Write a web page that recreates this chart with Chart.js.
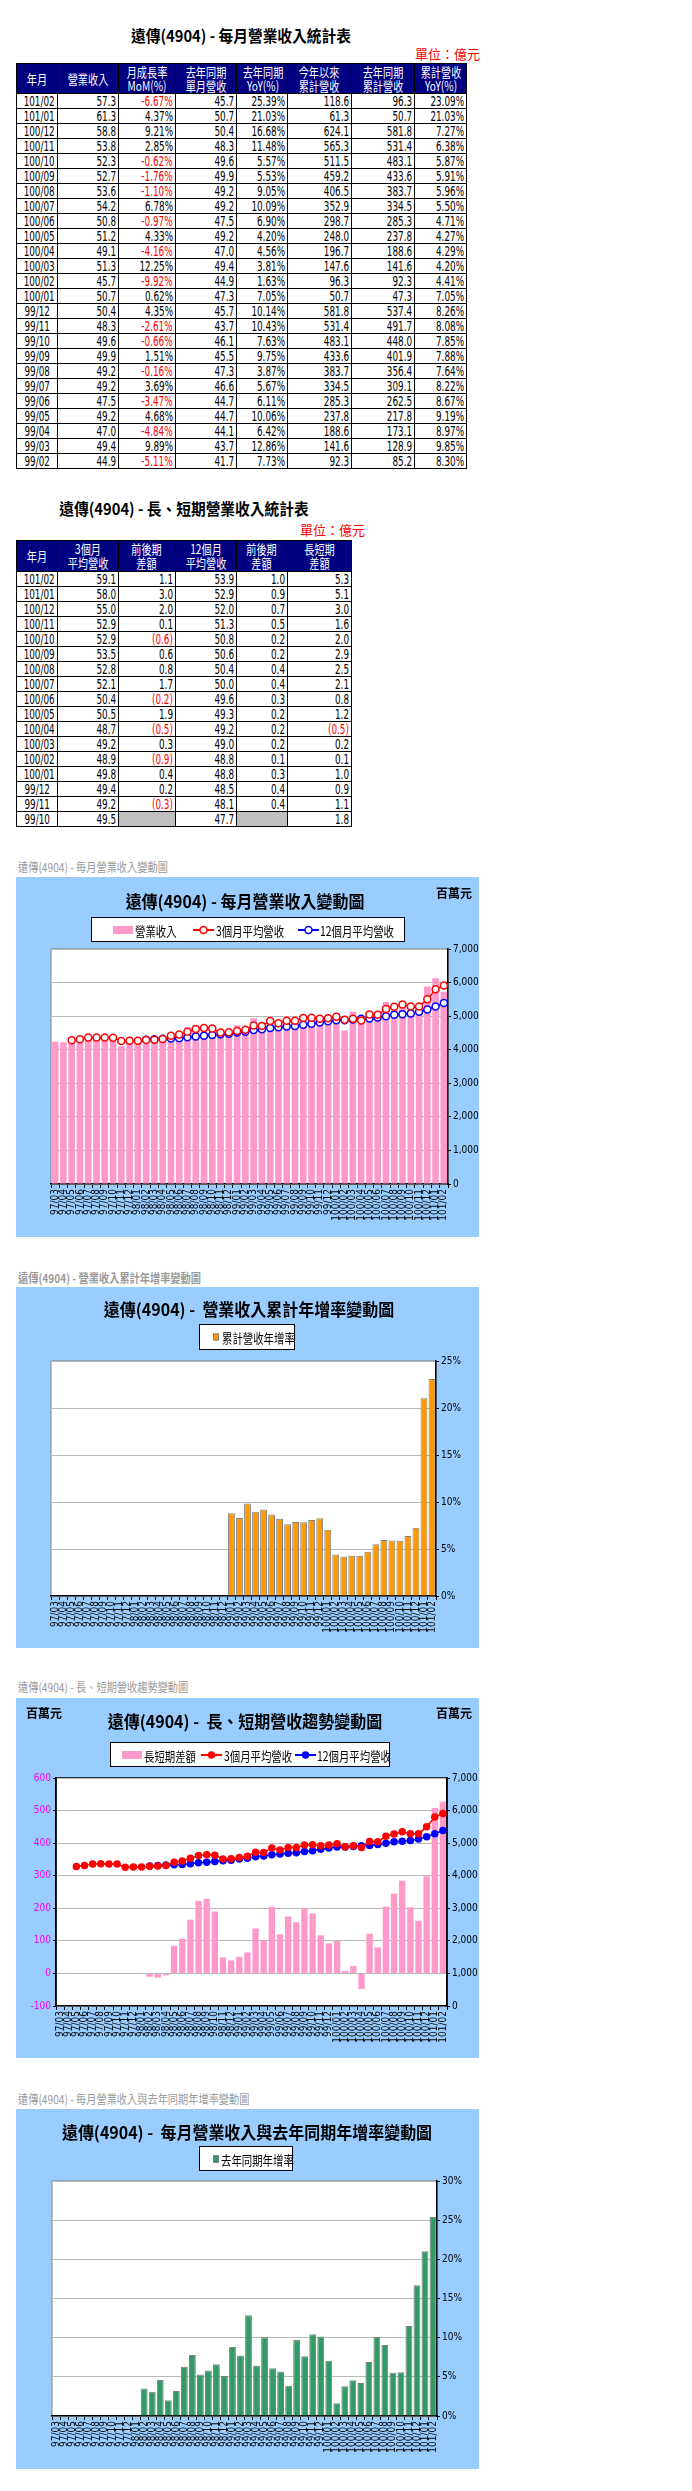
<!DOCTYPE html>
<html>
<head>
<meta charset="utf-8">
<script src="https://cdn.jsdelivr.net/npm/chart.js@4"></script>
<style>
body { margin: 0; background: #fff; font-family: "Noto Sans CJK TC", sans-serif; }
#page { position: relative; width: 692px; height: 2491px; overflow: hidden; }
.ttl { position: absolute; font-weight: bold; font-size: 16px; line-height: 20px; white-space: nowrap; transform: translateX(-50%) scaleX(0.92); color: #000; }
.unit { position: absolute; color: #f00; font-size: 13px; line-height: 16px; white-space: nowrap; }
.cap { position: absolute; left: 18px; color: #9a9a9a; font-size: 12px; line-height: 16px; white-space: nowrap; transform: scaleX(0.85); transform-origin: 0 50%; }
.panel { position: absolute; left: 16px; width: 463px; background: #99ccff; }
.panel canvas { position: absolute; left: 0; top: 0; }
table { position: absolute; left: 16px; border-collapse: collapse; table-layout: fixed; }
th { background: #000080; color: #fff; font-weight: normal; font-size: 13px; line-height: 14px; border: 1px solid #000; padding: 0; text-align: center; white-space: nowrap; overflow: hidden; }
th span { display: inline-block; transform: scaleX(0.78); }
td { border: 1px solid #000; height: 14px; line-height: 14px; padding: 0 2px 0 0; font-family: "DejaVu Sans Condensed", sans-serif; font-size: 14px; text-align: right; color: #000; white-space: nowrap; overflow: hidden; }
td span { display: inline-block; transform: scaleX(0.7); transform-origin: 100% 50%; }
td.m { text-align: center; padding: 0; }
td.m span { transform-origin: 50% 50%; }
td.neg { color: #f00; }
td.blank { background: #c0c0c0; }
</style>
</head>
<body>
<div id="page">
  <div class="ttl" style="left:241px;top:25px">遠傳(4904) - 每月營業收入統計表</div>
  <div class="unit" style="left:415px;top:46px">單位：億元</div>
  <table id="t1" style="top:63px;width:450px"></table>

  <div class="ttl" style="left:184px;top:498px">遠傳(4904) - 長、短期營業收入統計表</div>
  <div class="unit" style="left:300px;top:522px">單位：億元</div>
  <table id="t2" style="top:540px;width:335px"></table>

  <div class="cap" style="top:859px">遠傳(4904) - 每月營業收入變動圖</div>
  <div class="panel" style="top:877px;height:360px"><canvas id="c1" width="463" height="360"></canvas></div>

  <div class="cap" style="top:1270px;font-weight:bold">遠傳(4904) -  營業收入累計年增率變動圖</div>
  <div class="panel" style="top:1287px;height:361px"><canvas id="c2" width="463" height="361"></canvas></div>

  <div class="cap" style="top:1679px">遠傳(4904) -  長、短期營收趨勢變動圖</div>
  <div class="panel" style="top:1698px;height:360px"><canvas id="c3" width="463" height="360"></canvas></div>

  <div class="cap" style="top:2091px">遠傳(4904) -  每月營業收入與去年同期年增率變動圖</div>
  <div class="panel" style="top:2109px;height:360px"><canvas id="c4" width="463" height="360"></canvas></div>
</div>

<script>
// ---- table 1: monthly revenue (億元) ----
const months1 = ["101/02","101/01","100/12","100/11","100/10","100/09","100/08","100/07","100/06","100/05","100/04","100/03","100/02","100/01","99/12","99/11","99/10","99/09","99/08","99/07","99/06","99/05","99/04","99/03","99/02"];
const rev1 = [57.3,61.3,58.8,53.8,52.3,52.7,53.6,54.2,50.8,51.2,49.1,51.3,45.7,50.7,50.4,48.3,49.6,49.9,49.2,49.2,47.5,49.2,47.0,49.4,44.9];
const mom1 = [-6.67,4.37,9.21,2.85,-0.62,-1.76,-1.10,6.78,-0.97,4.33,-4.16,12.25,-9.92,0.62,4.35,-2.61,-0.66,1.51,-0.16,3.69,-3.47,4.68,-4.84,9.89,-5.11];
const lastRev1 = [45.7,50.7,50.4,48.3,49.6,49.9,49.2,49.2,47.5,49.2,47.0,49.4,44.9,47.3,45.7,43.7,46.1,45.5,47.3,46.6,44.7,44.7,44.1,43.7,41.7];
const yoy1 = [25.39,21.03,16.68,11.48,5.57,5.53,9.05,10.09,6.90,4.20,4.56,3.81,1.63,7.05,10.14,10.43,7.63,9.75,3.87,5.67,6.11,10.06,6.42,12.86,7.73];
const ytd1 = [118.6,61.3,624.1,565.3,511.5,459.2,406.5,352.9,298.7,248.0,196.7,147.6,96.3,50.7,581.8,531.4,483.1,433.6,383.7,334.5,285.3,237.8,188.6,141.6,92.3];
const lastYtd1 = [96.3,50.7,581.8,531.4,483.1,433.6,383.7,334.5,285.3,237.8,188.6,141.6,92.3,47.3,537.4,491.7,448.0,401.9,356.4,309.1,262.5,217.8,173.1,128.9,85.2];
const ytdYoy1 = [23.09,21.03,7.27,6.38,5.87,5.91,5.96,5.50,4.71,4.27,4.29,4.20,4.41,7.05,8.26,8.08,7.85,7.88,7.64,8.22,8.67,9.19,8.97,9.85,8.30];

// ---- table 2: long / short term averages (億元) ----
const months2 = ["101/02","101/01","100/12","100/11","100/10","100/09","100/08","100/07","100/06","100/05","100/04","100/03","100/02","100/01","99/12","99/11","99/10"];
const avg3 = [59.1,58.0,55.0,52.9,52.9,53.5,52.8,52.1,50.4,50.5,48.7,49.2,48.9,49.8,49.4,49.2,49.5];
const diff3 = [1.1,3.0,2.0,0.1,-0.6,0.6,0.8,1.7,-0.2,1.9,-0.5,0.3,-0.9,0.4,0.2,-0.3,null];
const avg12 = [53.9,52.9,52.0,51.3,50.8,50.6,50.4,50.0,49.6,49.3,49.2,49.0,48.8,48.8,48.5,48.1,47.7];
const diff12 = [1.0,0.9,0.7,0.5,0.2,0.2,0.4,0.4,0.3,0.2,0.2,0.2,0.1,0.3,0.4,0.4,null];
const spread2 = [5.3,5.1,3.0,1.6,2.0,2.9,2.5,2.1,0.8,1.2,-0.5,0.2,0.1,1.0,0.9,1.1,1.8];

// ---- charts: 97/03 .. 101/02 (百萬元 / %) ----
const chartMonths = ["97/03","97/04","97/05","97/06","97/07","97/08","97/09","97/10","97/11","97/12",
  "98/01","98/02","98/03","98/04","98/05","98/06","98/07","98/08","98/09","98/10","98/11","98/12",
  "99/01","99/02","99/03","99/04","99/05","99/06","99/07","99/08","99/09","99/10","99/11","99/12",
  "100/01","100/02","100/03","100/04","100/05","100/06","100/07","100/08","100/09","100/10","100/11","100/12",
  "101/01","101/02"];
const revenue = [4240,4220,4380,4330,4380,4390,4320,4360,4100,4350,
  4350,4170,4370,4410,4470,4470,4660,4730,4550,4610,4370,4570,
  4730,4490,4940,4700,4920,4750,4920,4920,4990,4960,4830,5040,
  5070,4570,5130,4910,5120,5080,5420,5360,5270,5230,5380,5880,
  6130,5730];
const avg3m = [null,null,4280,4310,4363,4367,4363,4357,4260,4270,
  4267,4290,4297,4317,4417,4450,4533,4620,4647,4630,4510,4517,
  4557,4597,4720,4710,4853,4790,4863,4863,4943,4950,4920,4940,
  4980,4890,4920,4870,5050,5040,5210,5280,5350,5290,5290,5500,
  5800,5910];
const avg12m = [null,null,null,null,null,null,null,null,null,null,
  null,4300,4310,4326,4334,4345,4369,4397,4416,4437,4459,4478,
  4510,4536,4584,4608,4645,4669,4690,4706,4743,4770,4810,4850,
  4880,4880,4900,4920,4930,4960,5000,5040,5060,5080,5130,5200,
  5290,5390];
const spread = [null,null,null,null,null,null,null,null,null,null,
  null,-10,-13,-6,85,107,165,223,229,190,49,40,
  51,64,138,101,205,120,175,157,200,184,117,92,
  100,8,23,-48,122,80,205,245,285,203,162,298,
  508,527];
const cumYoy = [null,null,null,null,null,null,null,null,null,null,
  null,null,null,null,null,null,null,null,null,null,null,null,
  8.8,8.30,9.85,8.97,9.19,8.67,8.22,7.64,7.88,7.85,8.08,8.26,
  7.05,4.41,4.20,4.29,4.27,4.71,5.50,5.96,5.91,5.87,6.38,7.27,
  21.03,23.09];
const monthYoy = [null,null,null,null,null,null,null,null,null,null,
  null,3.5,3.1,4.6,2.0,3.2,6.3,7.8,5.3,5.8,6.6,5.1,
  8.8,7.73,12.86,6.42,10.06,6.11,5.67,3.87,9.75,7.63,10.43,10.14,
  7.05,1.63,3.81,4.56,4.20,6.90,10.09,9.05,5.53,5.57,11.48,16.68,
  21.03,25.39];

function cell(text, cls) {
    var td = document.createElement("td");
    var span = document.createElement("span");
    span.textContent = text;
    td.append(span);
    if (cls) td.className = cls;
    return td;
}

function buildTable(id, widths, headers, rows) {
    var table = document.getElementById(id);
    var cg = document.createElement("colgroup");
    for (var w of widths) {
        var col = document.createElement("col");
        col.style.width = w + "px";
        cg.append(col);
    }
    table.append(cg);
    var tr = document.createElement("tr");
    for (var h of headers) {
        var th = document.createElement("th");
        th.innerHTML = "<span>" + h + "</span>";
        th.style.height = (id == "t1" ? 29 : 30) + "px";
        tr.append(th);
    }
    table.append(tr);
    for (var r of rows) {
        var row = document.createElement("tr");
        for (var c of r) row.append(c);
        table.append(row);
    }
}

function pct(v) {
    return cell(v.toFixed(2) + "%", v < 0 ? "neg" : "");
}

function paren(v) {
    if (v === null) return cell("", "blank");
    if (v < 0) return cell("(" + (-v).toFixed(1) + ")", "neg");
    return cell(v.toFixed(1));
}

var rows1 = months1.map(function (m, i) {
    return [cell(m, "m"), cell(rev1[i].toFixed(1)), pct(mom1[i]), cell(lastRev1[i].toFixed(1)),
        pct(yoy1[i]), cell(ytd1[i].toFixed(1)), cell(lastYtd1[i].toFixed(1)), pct(ytdYoy1[i])];
});
buildTable("t1", [41, 61, 57, 61, 51, 64, 63, 52],
    ["年月", "營業收入", "月成長率<br>MoM(%)", "去年同期<br>單月營收", "去年同期<br>YoY(%)", "今年以來<br>累計營收", "去年同期<br>累計營收", "累計營收<br>YoY(%)"],
    rows1);

var rows2 = months2.map(function (m, i) {
    return [cell(m, "m"), cell(avg3[i].toFixed(1)), paren(diff3[i]), cell(avg12[i].toFixed(1)),
        paren(diff12[i]), paren(spread2[i])];
});
buildTable("t2", [41, 61, 57, 61, 51, 64],
    ["年月", "3個月<br>平均營收", "前後期<br>差額", "12個月<br>平均營收", "前後期<br>差額", "長短期<br>差額"],
    rows2);

// ---- chart helpers ----
Chart.defaults.font.family = "'DejaVu Sans', sans-serif";
Chart.defaults.color = "#000";

// per chart: title, unit labels and the boxed legend, keyed by canvas id
const decoConf = {};

const deco = {
    id: "deco",
    beforeDraw(chart) {
        var o = decoConf[chart.canvas.id];
        var ctx = chart.ctx, a = chart.chartArea;
        ctx.save();
        ctx.fillStyle = "#fff";
        ctx.fillRect(a.left, a.top, a.right - a.left, a.bottom - a.top);
        ctx.strokeStyle = o.frame || "#808080";
        ctx.lineWidth = o.frameWidth || 1;
        ctx.strokeRect(a.left, a.top, a.right - a.left, a.bottom - a.top);
        ctx.restore();
    },
    afterDraw(chart) {
        var o = decoConf[chart.canvas.id];
        var ctx = chart.ctx;
        ctx.save();
        ctx.fillStyle = "#000";
        ctx.textBaseline = "middle";
        ctx.textAlign = "center";
        ctx.save();
        ctx.translate(o.titleX, o.titleY);
        ctx.scale(0.94, 1);
        ctx.font = "bold 17px 'Noto Sans CJK TC'";
        ctx.fillText(o.title, 0, 0);
        ctx.restore();
        ctx.font = "bold 12px 'Noto Sans CJK TC'";
        for (var u of (o.units || [])) ctx.fillText("百萬元", u[0], u[1]);
        var b = o.box;
        ctx.fillStyle = "#fff";
        ctx.fillRect(b[0], b[1], b[2], b[3]);
        ctx.strokeStyle = "#000";
        ctx.lineWidth = 1;
        ctx.strokeRect(b[0] + 0.5, b[1] + 0.5, b[2] - 1, b[3] - 1);
        ctx.textAlign = "left";
        for (var it of o.items) {
            var ds = chart.data.datasets[it.ds];
            if (it.type == "rect") {
                ctx.fillStyle = ds.backgroundColor;
                ctx.fillRect(it.x, it.y - it.h / 2, it.w, it.h);
                if (ds.borderWidth) {
                    ctx.strokeStyle = ds.borderColor;
                    ctx.lineWidth = 1;
                    ctx.strokeRect(it.x + 0.5, it.y - it.h / 2 + 0.5, it.w - 1, it.h - 1);
                }
            } else {
                ctx.strokeStyle = ds.borderColor;
                ctx.lineWidth = 2;
                ctx.beginPath();
                ctx.moveTo(it.x, it.y);
                ctx.lineTo(it.x + it.w, it.y);
                ctx.stroke();
                ctx.beginPath();
                ctx.arc(it.x + it.w / 2, it.y, ds.pointRadius, 0, Math.PI * 2);
                ctx.fillStyle = ds.pointBackgroundColor;
                ctx.fill();
                ctx.lineWidth = ds.pointBorderWidth;
                ctx.stroke();
            }
            ctx.save();
            ctx.translate(it.tx, it.y + 1);
            ctx.scale(0.8, 1);
            ctx.fillStyle = "#000";
            ctx.font = "13px 'Noto Sans CJK TC'";
            ctx.fillText(ds.label, 0, 0);
            ctx.restore();
        }
        ctx.restore();
    }
};
Chart.register(deco);

function xScale(h) {
    return {
        grid: { drawOnChartArea: false, tickLength: 4, tickColor: "#000", offset: true },
        border: { color: "#000", width: 1.5 },
        ticks: { autoSkip: false, maxRotation: 90, minRotation: 90, font: { size: 10, family: "'DejaVu Sans Condensed', sans-serif" }, padding: 1 },
        afterFit(s) { s.height = h; }
    };
}

function yScale(pos, min, max, step, w, fmt, color, grid) {
    var ticks = { stepSize: step, font: { size: 10, family: "'DejaVu Sans Condensed', sans-serif" }, color: color, padding: 2 };
    if (fmt) ticks.callback = fmt;
    return {
        position: pos, min: min, max: max,
        ticks: ticks,
        grid: { color: "#b8b8b8", tickColor: "#000", tickLength: 3, drawOnChartArea: grid },
        border: { color: "#000", width: 1.5 },
        afterFit(s) { s.width = w; }
    };
}

function baseOpts(pad, scales) {
    return {
        responsive: false, animation: false, events: [],
        layout: { padding: pad },
        plugins: { legend: { display: false }, tooltip: { enabled: false } },
        scales: scales
    };
}

function lineSet(label, data, color, hollow, axis) {
    return {
        type: "line", label: label, data: data, yAxisID: axis, order: 1,
        borderColor: color, borderWidth: 1.5,
        pointRadius: hollow ? 3.5 : 3, pointBorderWidth: 1.5,
        pointBackgroundColor: hollow ? "#fff" : color, pointBorderColor: color
    };
}

var comma = function (v) { return v.toLocaleString("en-US"); };
var percent = function (v) { return v + "%"; };

// chart 1: monthly revenue with moving averages
decoConf.c1 = {
    title: "遠傳(4904) - 每月營業收入變動圖", titleX: 229, titleY: 25, units: [[438, 16]],
    box: [75, 40, 314, 25],
    items: [
        { ds: 0, type: "rect", x: 97, y: 53, w: 20, h: 8, tx: 119 },
        { ds: 1, type: "line", x: 177, y: 53, w: 21, tx: 200 },
        { ds: 2, type: "line", x: 282, y: 53, w: 21, tx: 304 }
    ]
};
new Chart(document.getElementById("c1"), {
    type: "bar",
    data: {
        labels: chartMonths,
        datasets: [
            { label: "營業收入", data: revenue, yAxisID: "y", order: 2, backgroundColor: "#ff99cc", barPercentage: 0.8, categoryPercentage: 1 },
            lineSet("3個月平均營收", avg3m, "#ff0000", true, "y"),
            lineSet("12個月平均營收", avg12m, "#0000ff", true, "y")
        ]
    },
    options: baseOpts({ left: 35, top: 72, right: 0, bottom: 0 },
        { x: xScale(53), y: yScale("right", 0, 7000, 1000, 31, comma, "#000", true) })
});

// chart 2: cumulative revenue YoY
decoConf.c2 = {
    title: "遠傳(4904) -  營業收入累計年增率變動圖", titleX: 233, titleY: 23,
    box: [183, 37, 96, 26],
    items: [{ ds: 0, type: "rect", x: 197, y: 50, w: 6, h: 7, tx: 206 }]
};
new Chart(document.getElementById("c2"), {
    type: "bar",
    data: {
        labels: chartMonths,
        datasets: [
            { label: "累計營收年增率", data: cumYoy, backgroundColor: "#ff9900", borderColor: "#808080", borderWidth: 1, barPercentage: 0.85, categoryPercentage: 1 }
        ]
    },
    options: baseOpts({ left: 35, top: 74, right: 0, bottom: 0 },
        { x: xScale(52), y: yScale("right", 0, 25, 5, 43, percent, "#000", true) })
});

// chart 3: long / short term spread
decoConf.c3 = {
    title: "遠傳(4904) -  長、短期營收趨勢變動圖", titleX: 229, titleY: 24, units: [[28, 15], [438, 15]],
    frame: "#000", frameWidth: 1.5,
    box: [94, 44, 280, 25],
    items: [
        { ds: 0, type: "rect", x: 106, y: 57, w: 20, h: 8, tx: 128 },
        { ds: 1, type: "line", x: 185, y: 57, w: 21, tx: 208 },
        { ds: 2, type: "line", x: 279, y: 57, w: 21, tx: 301 }
    ]
};
new Chart(document.getElementById("c3"), {
    type: "bar",
    data: {
        labels: chartMonths,
        datasets: [
            { label: "長短期差額", data: spread, yAxisID: "yL", order: 2, backgroundColor: "#ff99cc", barPercentage: 0.78, categoryPercentage: 1 },
            lineSet("3個月平均營收", avg3m, "#ff0000", false, "yR"),
            lineSet("12個月平均營收", avg12m, "#0000ff", false, "yR")
        ]
    },
    options: baseOpts({ left: 0, top: 80, right: 0, bottom: 0 },
        {
            x: xScale(52),
            yL: yScale("left", -100, 600, 100, 40, null, "#ff00ff", true),
            yR: yScale("right", 0, 7000, 1000, 32, comma, "#000", false)
        })
});

// chart 4: monthly revenue YoY
decoConf.c4 = {
    title: "遠傳(4904) -  每月營業收入與去年同期年增率變動圖", titleX: 231, titleY: 24,
    box: [183, 37, 94, 25],
    items: [{ ds: 0, type: "rect", x: 197, y: 50, w: 6, h: 8, tx: 205 }]
};
new Chart(document.getElementById("c4"), {
    type: "bar",
    data: {
        labels: chartMonths,
        datasets: [
            { label: "去年同期年增率", data: monthYoy, backgroundColor: "#339966", borderColor: "#808080", borderWidth: 1, barPercentage: 0.85, categoryPercentage: 1 }
        ]
    },
    options: baseOpts({ left: 36, top: 72, right: 0, bottom: 0 },
        { x: xScale(53), y: yScale("right", 0, 30, 5, 42, percent, "#000", true) })
});
</script>
</body>
</html>
